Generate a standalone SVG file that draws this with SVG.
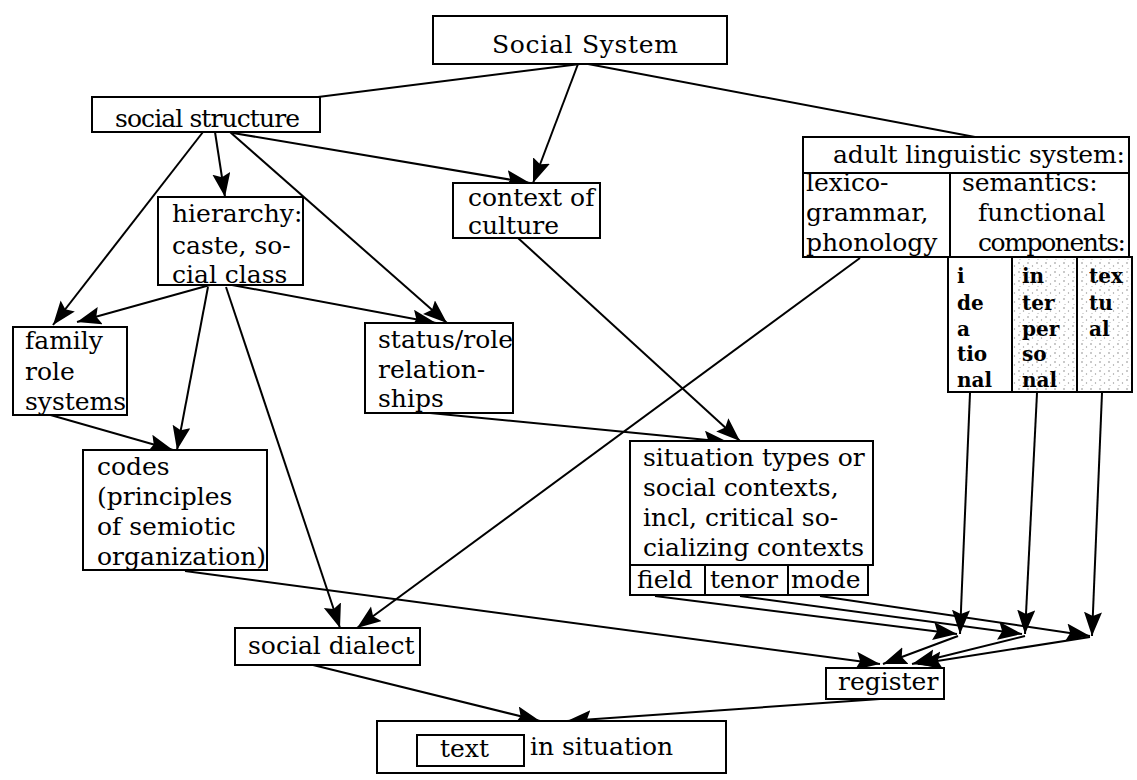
<svg xmlns="http://www.w3.org/2000/svg" width="1137" height="780" viewBox="0 0 1137 780">
<defs>
<style>
.box{fill:#fff;stroke:#000;stroke-width:2}
.t{font-family:"DejaVu Serif","Liberation Serif",serif;font-size:25px;fill:#000}
.c{font-family:"DejaVu Serif","Liberation Serif",serif;font-size:20px;font-weight:bold;fill:#000}
.ln{stroke:#000;stroke-width:2;fill:none}
.ar{stroke:#000;stroke-width:2;fill:none;marker-end:url(#ah)}
</style>
<marker id="ah" markerUnits="userSpaceOnUse" markerWidth="26" markerHeight="20" refX="24" refY="9" orient="auto">
<path d="M0,0 L24,9 L0,18 L4,9 z" fill="#000"/>
</marker>
<pattern id="stip" patternUnits="userSpaceOnUse" width="9" height="9">
<rect width="9" height="9" fill="#fff"/>
<circle cx="2" cy="2" r="0.8" fill="#888"/>
<circle cx="6.5" cy="5" r="0.7" fill="#999"/>
<circle cx="3" cy="7.5" r="0.6" fill="#aaa"/>
</pattern>
</defs>
<rect width="1137" height="780" fill="#fff"/>

<g id="connectors">
<line class="ln" x1="580" y1="64" x2="318" y2="97"/>
<line class="ar" x1="578" y1="64" x2="533" y2="183"/>
<line class="ln" x1="588" y1="64" x2="975" y2="137"/>
<line class="ar" x1="203" y1="132" x2="53" y2="325"/>
<line class="ar" x1="215" y1="132" x2="225" y2="197"/>
<line class="ar" x1="230" y1="132" x2="447" y2="323"/>
<line class="ar" x1="233" y1="133" x2="530" y2="183"/>
<line class="ar" x1="210" y1="285" x2="77" y2="322"/>
<line class="ar" x1="208" y1="287" x2="177" y2="450"/>
<line class="ar" x1="226" y1="287" x2="340" y2="628"/>
<line class="ar" x1="232" y1="285" x2="436" y2="323"/>
<line class="ar" x1="47" y1="414" x2="173" y2="450"/>
<line class="ar" x1="518" y1="238" x2="740" y2="441"/>
<line class="ar" x1="430" y1="413" x2="728" y2="442"/>
<line class="ar" x1="860" y1="258" x2="357" y2="628"/>
<line class="ar" x1="185" y1="571" x2="880" y2="664"/>
<line class="ar" x1="655" y1="596" x2="957" y2="634"/>
<line class="ar" x1="740" y1="596" x2="1022" y2="634"/>
<line class="ar" x1="820" y1="596" x2="1090" y2="636"/>
<line class="ar" x1="970" y1="393" x2="960" y2="634"/>
<line class="ar" x1="1037" y1="393" x2="1025" y2="634"/>
<line class="ar" x1="1102" y1="393" x2="1092" y2="636"/>
<line class="ar" x1="958" y1="636" x2="883" y2="664"/>
<line class="ar" x1="1025" y1="636" x2="912" y2="664"/>
<line class="ar" x1="1090" y1="637" x2="918" y2="664"/>
<line class="ar" x1="313" y1="665" x2="540" y2="721"/>
<line class="ar" x1="880" y1="699" x2="567" y2="721"/>
</g>

<g id="social-system">
<rect class="box" x="433" y="16" width="294" height="48"/>
<text class="t" x="492" y="53" textLength="186">Social  System</text>
</g>

<g id="social-structure">
<rect class="box" x="92" y="97" width="228" height="35"/>
<text class="t" x="115" y="127" textLength="185">social structure</text>
</g>

<g id="hierarchy">
<rect class="box" x="158" y="197" width="145" height="88"/>
<text class="t" x="172" y="222">hierarchy:</text>
<text class="t" x="172" y="254">caste, so-</text>
<text class="t" x="172" y="283">cial class</text>
</g>

<g id="context-of-culture">
<rect class="box" x="453" y="183" width="147" height="55"/>
<text class="t" x="468" y="206">context of</text>
<text class="t" x="468" y="234">culture</text>
</g>

<g id="family-role-systems">
<rect class="box" x="13" y="327" width="114" height="88"/>
<text class="t" x="25" y="349">family</text>
<text class="t" x="25" y="380">role</text>
<text class="t" x="25" y="410">systems</text>
</g>

<g id="status-role">
<rect class="box" x="365" y="323" width="148" height="90"/>
<text class="t" x="378" y="348">status/role</text>
<text class="t" x="378" y="378">relation-</text>
<text class="t" x="378" y="407">ships</text>
</g>

<g id="codes">
<rect class="box" x="83" y="450" width="184" height="120"/>
<text class="t" x="97" y="475">codes</text>
<text class="t" x="97" y="505">(principles</text>
<text class="t" x="97" y="535">of semiotic</text>
<text class="t" x="97" y="565">organization)</text>
</g>

<g id="adult-linguistic-system">
<rect class="box" x="803" y="137" width="326" height="36"/>
<text class="t" x="833" y="163" textLength="292">adult  linguistic system:</text>
<rect class="box" x="803" y="173" width="147" height="84"/>
<text class="t" x="806" y="191">lexico-</text>
<text class="t" x="806" y="221">grammar,</text>
<text class="t" x="806" y="251">phonology</text>
<rect class="box" x="950" y="173" width="179" height="84"/>
<text class="t" x="962" y="191">semantics:</text>
<text class="t" x="978" y="221">functional</text>
<text class="t" x="978" y="251" textLength="148">components:</text>
</g>

<g id="ideational">
<rect class="box" x="948" y="257" width="64" height="135"/>
<text class="c" x="957" y="283">i</text>
<text class="c" x="957" y="310">de</text>
<text class="c" x="957" y="336">a</text>
<text class="c" x="957" y="361">tio</text>
<text class="c" x="957" y="387">nal</text>
</g>

<g id="interpersonal">
<rect class="box" x="1012" y="257" width="65" height="135" style="fill:url(#stip)"/>
<text class="c" x="1022" y="283">in</text>
<text class="c" x="1022" y="310">ter</text>
<text class="c" x="1022" y="336">per</text>
<text class="c" x="1022" y="361">so</text>
<text class="c" x="1022" y="387">nal</text>
</g>

<g id="textual">
<rect class="box" x="1077" y="257" width="55" height="135" style="fill:url(#stip)"/>
<text class="c" x="1089" y="283">tex</text>
<text class="c" x="1089" y="310">tu</text>
<text class="c" x="1089" y="336">al</text>
</g>

<g id="situation-types">
<rect class="box" x="630" y="441" width="243" height="124"/>
<text class="t" x="643" y="466">situation types or</text>
<text class="t" x="643" y="496">social contexts,</text>
<text class="t" x="643" y="526">incl, critical so-</text>
<text class="t" x="643" y="556">cializing contexts</text>
</g>

<g id="field">
<rect class="box" x="630" y="565" width="75" height="30"/>
<text class="t" x="637" y="588">field</text>
</g>
<g id="tenor">
<rect class="box" x="705" y="565" width="83" height="30"/>
<text class="t" x="710" y="588">tenor</text>
</g>
<g id="mode">
<rect class="box" x="788" y="565" width="80" height="30"/>
<text class="t" x="791" y="588">mode</text>
</g>

<g id="social-dialect">
<rect class="box" x="235" y="628" width="185" height="37"/>
<text class="t" x="248" y="654">social dialect</text>
</g>

<g id="register">
<rect class="box" x="826" y="668" width="118" height="31"/>
<text class="t" x="838" y="690">register</text>
</g>

<g id="text-in-situation">
<rect class="box" x="377" y="721" width="349" height="52"/>
<rect class="box" x="417" y="735" width="107" height="31"/>
<text class="t" x="440" y="757">text</text>
<text class="t" x="530" y="755">in situation</text>
</g>
</svg>
